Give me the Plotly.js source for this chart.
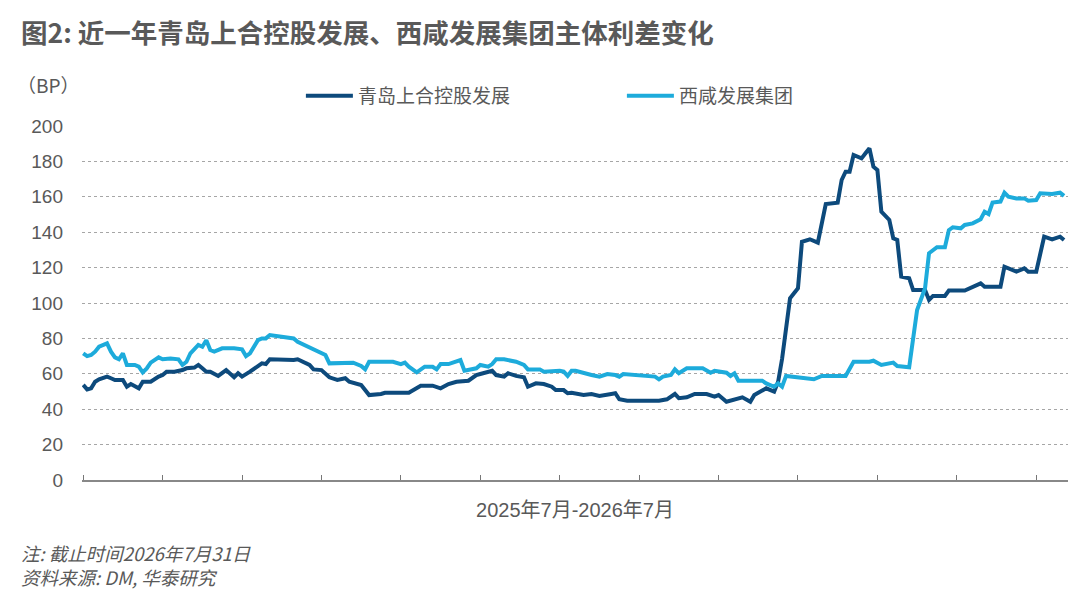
<!DOCTYPE html>
<html>
<head>
<meta charset="utf-8">
<script src="https://cdn.plot.ly/plotly-3.0.1.min.js"></script>
<style>
html,body{margin:0;padding:0;background:#fff;}
#chart{width:1080px;height:595px;}
</style>
</head>
<body>
<div id="chart"></div>
<script>
// Trading-day index (0 = start of 2025年7月 window) and spread values in BP
const seriesNames = ["青岛上合控股发展", "西咸发展集团"];

const qdX = [0,1,2,3,4,6,7,8,10,11,12,13,14,15,17,19,20,21,22,23,25,26,28,29,30,31,32,34,36,38,39,40,42,44,45,46,47,53,54,57,58,60,62,64,66,67,70,71,72,75,76,82,83,85,88,90,92,94,97,99,100,103,104,106,107,109,111,112,114,116,118,119,121,122,123,126,128,130,133,134,135,137,145,147,149,150,152,154,157,159,160,162,166,168,169,172,174,175,176,178,179,180,181,183,185,187,190,191,192,193,194,196,197,198,199,200,201,202,203,204,205,206,208,209,212,213,214,217,218,222,224,226,227,231,232,235,237,238,240,242,244,246,247];
const qdY = [53.7,51.2,51.8,55.5,56.9,58.4,57.5,56.5,56.5,52.7,54.2,53.1,51.8,55.5,55.5,58.4,59.3,61.2,61.2,61.2,62.1,63.1,63.5,65,63.1,61.2,61.2,58.8,62.1,58,60.3,58.4,61.2,64,65.9,65.5,68.2,67.8,68.2,65,62.5,62.1,58,56.5,57.5,55.5,53.7,50.8,48,48.6,49.3,49.3,50.8,53.3,53.3,51.8,54.2,55.5,56.1,59.3,59.9,61.7,59.3,58.4,60.3,58.8,58,52.7,54.6,54.2,52.7,50.8,50.8,49,49.3,48,48.6,47.5,48.6,49,45.6,44.8,44.8,45.6,48.6,46.2,46.7,48.6,48.6,47.1,48,44.2,46.7,44.2,48,51.8,49.9,55.5,68.5,102.6,105.5,108.3,134.6,136,134.1,155.9,156.7,169.5,174.2,174.2,183.6,181.7,184.6,187.4,177,175.1,151.6,148.8,146.9,136.5,135.6,114.9,114,107.3,107.3,101.7,104,104,107,107,109.2,111.1,109.2,109.2,120.5,117.7,119.6,117.7,117.7,137.5,136,137.5,135.6];

const xxX = [0,1,2,3,4,6,7,8,9,10,11,13,14,15,16,17,19,20,22,24,25,26,27,29,30,31,32,33,35,38,40,41,42,44,45,46,47,50,53,54,57,58,61,62,67,68,70,71,72,78,80,81,82,84,86,88,89,90,92,93,95,96,97,99,100,102,103,104,106,109,111,112,115,116,120,121,122,123,124,126,128,130,132,134,135,136,140,144,145,146,148,149,150,152,156,158,159,162,163,164,165,171,172,174,175,176,177,180,182,184,186,192,194,198,199,201,204,205,208,209,210,212,213,215,217,218,219,221,222,224,226,227,228,229,231,232,233,235,237,238,240,241,244,246,247];
const xxY = [71.6,70,70.6,72.5,75.3,77.2,72.5,69.3,68.2,71.6,65,65,64,60.8,63,66.3,69.3,68.2,68.7,68.2,65,66.8,71.6,76.3,75.3,79,73.4,72.5,74.4,74.4,73.8,70,71.6,79,80,80,81.9,81,80,78.1,75,73.4,70.6,65.9,65.9,66.3,64.4,62.5,66.8,66.8,65.5,66.3,64,60.8,64,64,62.5,65.5,65.5,66.3,67.8,61.7,62.1,63.1,65,64,65.5,68.2,68.2,66.8,65,62.5,62.5,61.2,61.7,61.2,58.8,61.7,61.7,60.3,59.3,58.4,59.9,59.3,58.4,59.9,59.3,58.4,56.9,58.4,59.3,62.5,60.3,63.1,63.1,60.6,61.7,60.6,58.8,60.3,56.1,56.1,54.6,52.7,54.6,52.7,58.8,58,57.5,56.9,58.8,58.8,66.8,66.8,67.4,65,66.3,64.4,63.7,81,96,108.3,128.1,131.5,131.5,141.2,142.8,142.2,144.1,145,147.3,151.6,150.3,156.7,157.3,162.3,160.1,159.1,159.1,157.8,158.2,162,161.6,162.3,160.5];

const yTicks = [0,20,40,60,80,100,120,140,160,180,200];
const xTicks = [0,20,40,60,80,100,120,140,160,180,200,220,240];
const xTitle = "2025年7月-2026年7月";
const chartTitle = "图2: 近一年青岛上合控股发展、西咸发展集团主体利差变化";
const unitLabel = "（BP）";
const noteText = "注: 截止时间2026年7月31日";
const sourceText = "资料来源: DM, 华泰研究";

const CJK = "'Noto Sans CJK SC', 'Noto Sans', sans-serif";
const LAT = "'Liberation Sans', 'Noto Sans CJK SC', sans-serif";
const GRAY = "#595959";

const traces = [
  {x: qdX, y: qdY, name: seriesNames[0], type: "scatter", mode: "lines",
   line: {color: "#0d4a7c", width: 4, shape: "linear"}},
  {x: xxX, y: xxY, name: seriesNames[1], type: "scatter", mode: "lines",
   line: {color: "#1dabdb", width: 4, shape: "linear"}}
];

const layout = {
  width: 1080, height: 595,
  margin: {l: 82, r: 12, t: 126, b: 115},
  paper_bgcolor: "#fff", plot_bgcolor: "#fff",
  font: {family: CJK, color: GRAY, size: 19},
  showlegend: true,
  legend: {orientation: "h", x: 0.222, xanchor: "left", y: 1.085, yanchor: "middle",
           font: {family: CJK, size: 19, color: GRAY}, itemwidth: 47, entrywidth: 259, entrywidthmode: "pixels",
           bgcolor: "rgba(0,0,0,0)"},
  xaxis: {range: [-0.3, 248], tickvals: xTicks, ticktext: xTicks.map(() => ""),
          ticks: "inside", ticklen: 5, tickcolor: "#777", tickwidth: 1,
          showline: true, linecolor: "#888", linewidth: 1.5, showgrid: false, zeroline: false,
          title: {text: xTitle, font: {family: LAT, size: 20, color: GRAY}, standoff: 18}, fixedrange: true},
  yaxis: {range: [0, 200], tickvals: yTicks, showgrid: true, gridcolor: "#a6a6a6", griddash: "dot",
          gridwidth: 1, zeroline: false, showline: false, ticks: "", ticklabelstandoff: 18,
          tickfont: {family: LAT, size: 19, color: GRAY}, fixedrange: true},
  annotations: [
    {text: "<b>" + chartTitle + "</b>", xref: "paper", yref: "paper", x: -0.064, y: 1.268,
     xanchor: "left", yanchor: "middle", showarrow: false, font: {family: CJK, size: 26.5, color: GRAY}},
    {text: unitLabel, xref: "paper", yref: "paper", x: -0.068, y: 1.116, xanchor: "left", yanchor: "middle",
     showarrow: false, font: {family: CJK, size: 19, color: GRAY}},
    {text: "<i>" + noteText + "</i>", xref: "paper", yref: "paper", x: -0.064, y: -0.205,
     xanchor: "left", yanchor: "middle", showarrow: false, font: {family: CJK, size: 18.5, color: GRAY}},
    {text: "<i>" + sourceText + "</i>", xref: "paper", yref: "paper", x: -0.064, y: -0.275,
     xanchor: "left", yanchor: "middle", showarrow: false, font: {family: CJK, size: 18.5, color: GRAY}}
  ]
};

Plotly.newPlot("chart", traces, layout, {displayModeBar: false, staticPlot: true});
</script>
</body>
</html>
